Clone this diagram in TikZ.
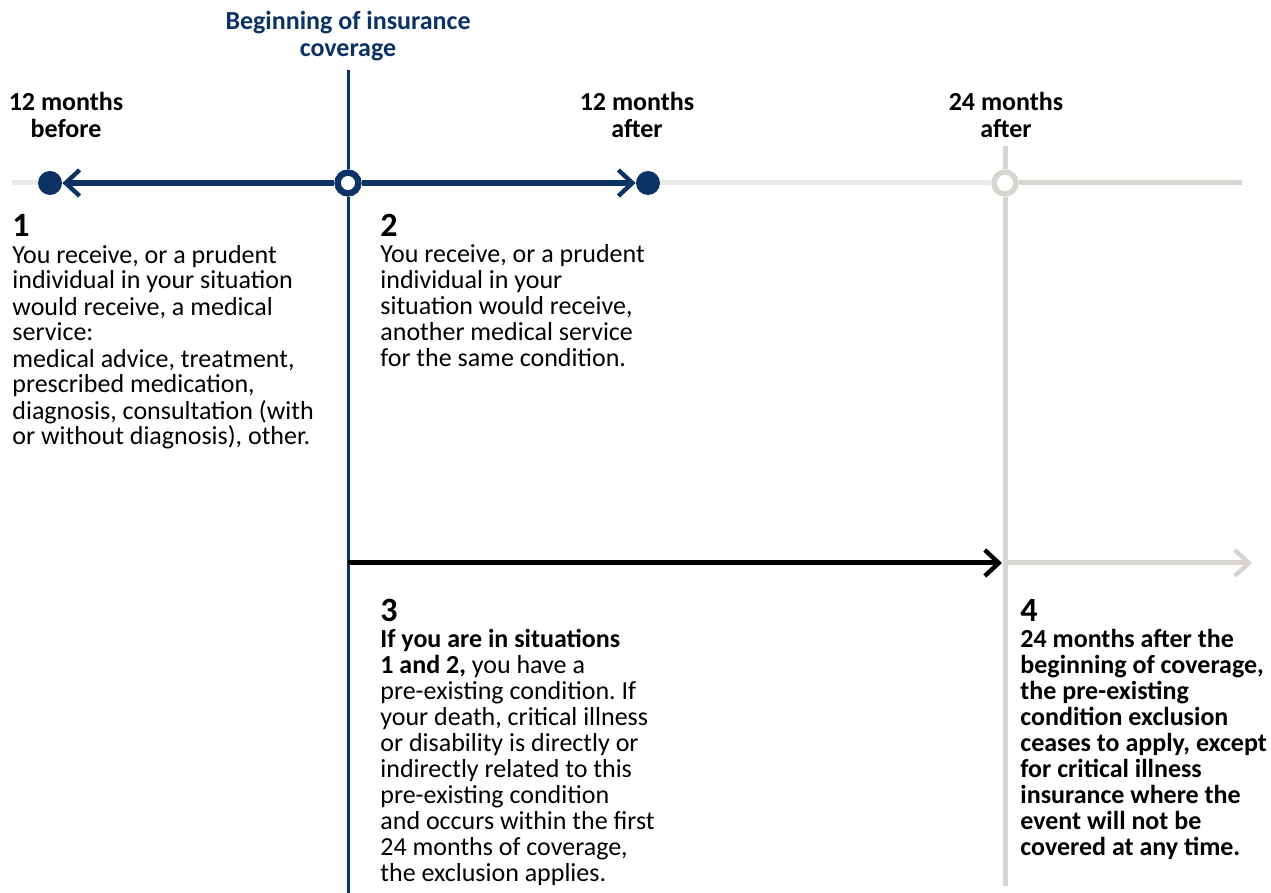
\documentclass[tikz,border=0pt]{standalone}
\usepackage{fontspec}
\setmainfont{Carlito}
\usepackage{xcolor}
\usetikzlibrary{arrows.meta}
\definecolor{navy}{RGB}{11,50,99}
\definecolor{pale}{RGB}{237,234,231}
\definecolor{stone}{RGB}{216,212,207}
\frenchspacing

\begin{document}
\begin{tikzpicture}[x=0.5pt,y=-0.5pt,
  body/.style={anchor=base west,inner sep=0,align=left,font=\fontsize{13}{13}\selectfont},
  num/.style={anchor=base west,inner sep=0,font=\fontsize{17}{17}\selectfont\bfseries},
  head/.style={anchor=base,inner sep=0,align=center,font=\fontsize{13}{13.5}\selectfont\bfseries},
  dot/.style={circle,fill=navy,inner sep=0,minimum size=12pt},
  ring/.style={circle,draw=#1,fill=white,line width=3.2pt,inner sep=0,minimum size=10.4pt},
  barb/.style={-{Straight Barb[length=7pt,width=13pt,line width=2.2pt]}}]
\useasboundingbox (0,0) rectangle (1271,893);

% points on the time line
\node[dot] (before) at (50,183) {};
\node[ring=navy] (start) at (348,183) {};
\node[dot] (after12) at (648,183) {};
\node[ring=stone,line width=2.7pt,minimum size=11pt] (after24) at (1005,183) {};
\coordinate (lineL) at (12,183);
\coordinate (lineR) at (1242,183);
\coordinate (blueTop) at (348,70);
\coordinate (blueBot) at (348,893);
\coordinate (grayTop) at (1005,146);
\coordinate (grayBot) at (1005,886);
\coordinate (arrowA) at (348,563);
\coordinate (arrowB) at (1005,563);
\coordinate (arrowC) at (1252,563);

\draw[pale,line width=2.5pt] (lineL) -- (before);
\draw[pale,line width=2.5pt] (after12) -- (after24);
\draw[stone,line width=2.5pt] (after24) -- (lineR);
\draw[navy,line width=1.5pt] (blueTop) -- (start);
\draw[navy,line width=1.5pt] (start) -- (blueBot);
\draw[stone,line width=2.5pt] (grayTop) -- (after24);
\draw[stone,line width=2.5pt] (after24) -- (grayBot);
\draw[navy,line width=3.2pt,barb] (start) -- (before);
\draw[navy,line width=3.2pt,barb] (start) -- (after12);
\draw[stone,line width=2.5pt,barb] (arrowB) -- (arrowC);
\draw[black,line width=2.5pt,barb,shorten >=1.5pt] (arrowA) -- (arrowB);

% labels above the line (base = last line)
\node[head,text=navy] (lblStart) at (348,57) {Beginning of insurance\\coverage};
\node[head] (lblBefore) at (66,138) {12 months\\before};
\node[head] (lblAfter12) at (637,138) {12 months\\after};
\node[head] (lblAfter24) at (1006,138) {24 months\\after};

% the four situations
\node[num] (n1) at (12,237) {1};
\node[body] (t1) at (12,445) {You receive, or a prudent\\individual in your situation\\would receive, a medical\\service:\\medical advice, treatment,\\prescribed medication,\\diagnosis, consultation (with\\or without diagnosis), other.};
\node[num] (n2) at (380,237) {2};
\node[body] (t2) at (380,367) {You receive, or a prudent\\individual in your\\situation would receive,\\another medical service\\for the same condition.};
\node[num] (n3) at (380,622) {3};
\node[body] (t3) at (380,881) {\textbf{If you are in situations}\\\textbf{1 and 2,} you have a\\pre-existing condition. If\\your death, critical illness\\or disability is directly or\\indirectly related to this\\pre-existing condition\\and occurs within the first\\24 months of coverage,\\the exclusion applies.};
\node[num] (n4) at (1020,622) {4};
\node[body,font=\fontsize{13}{13}\selectfont\bfseries] (t4) at (1020,855) {24 months after the\\beginning of coverage,\\the pre-existing\\condition exclusion\\ceases to apply, except\\for critical illness\\insurance where the\\event will not be\\covered at any time.};
\end{tikzpicture}
\end{document}
